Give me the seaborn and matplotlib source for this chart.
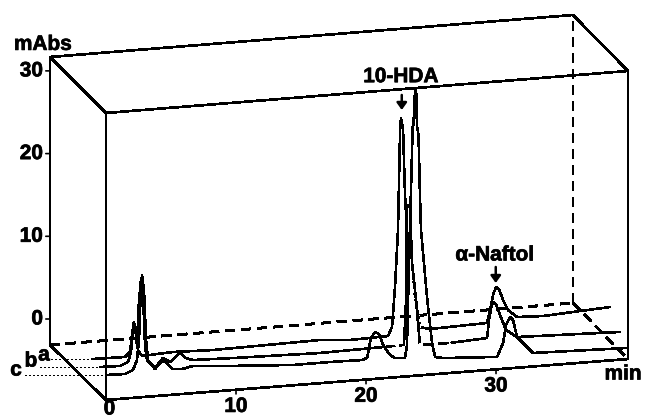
import numpy as np
import pandas as pd
import seaborn as sns
import matplotlib.pyplot as plt
import matplotlib.patheffects as pe

# chromatogram traces (min along front axis, mAbs on back scale)
time_a = [-1.08, 1.46, 1.85, 2.0, 2.15, 2.31, 2.46, 2.77, 3.38, 5.15, 8.23, 16.46, 18.77, 21.69, 22.0, 22.23, 22.46,
          22.62, 22.69, 22.85, 23.0, 23.15, 23.54, 23.77, 24.15, 24.92, 29.31, 29.54, 29.77, 30.0, 30.23, 30.54,
          30.92, 31.62, 33.62, 38.77]
abs_a = [-4.84, -4.59, -3.99, -1.93, -0.36, -1.57, -3.75, -4.47, -4.35, -3.99, -3.75, -2.54, -2.54, -2.06, -0.97,
         3.87, 10.76, 22.85, 24.3, 22.85, 14.99, 10.76, 6.77, 2.66, -0.97, -1.21, -0.48, 1.09, 2.9, 3.87, 3.63, 2.3,
         1.09, 0.24, 0.36, 1.45]

time_b = [-0.46, 1.08, 1.69, 1.92, 2.08, 2.23, 2.38, 2.54, 2.69, 2.85, 3.0, 3.15, 3.77, 4.38, 4.92, 5.69, 6.15, 6.69,
          9.77, 16.46, 21.31, 22.92, 23.08, 23.12, 23.23, 23.38, 23.54, 23.85, 24.15, 26.46, 29.31, 29.46, 29.62,
          29.77, 30.0, 30.31, 30.77, 31.62, 39.54]
abs_b = [-5.8, -5.68, -5.2, -3.99, -1.33, -0.85, -3.14, 2.3, 4.72, 2.9, -3.14, -4.96, -5.93, -4.72, -5.2, -4.11,
         -4.72, -4.96, -4.72, -4.11, -3.39, -3.14, 2.3, 13.54, 13.78, 13.54, 6.77, 2.3, -3.14, -2.9, -2.3, -0.12,
         1.33, 2.06, 1.81, 0.48, -1.33, -2.18, -1.57]

time_c = [0, 1.46, 2.08, 2.38, 2.54, 2.69, 2.77, 2.92, 3.08, 3.23, 3.77, 4.38, 5.15, 5.85, 6.69, 9.31, 14.38, 17.23,
          19.69, 20.08, 20.38, 20.69, 21.0, 21.31, 21.85, 22.23, 23.0, 23.15, 23.31, 23.46, 23.59, 23.65, 23.77,
          23.85, 23.92, 24.04, 24.15, 24.23, 24.69, 25.08, 25.31, 25.92, 30.08, 30.54, 30.77, 31.08, 31.31, 31.62,
          32.85, 40.0]
abs_c = [-6.77, -6.65, -6.17, -4.96, -2.54, 4.11, 5.32, 3.51, -2.54, -4.96, -6.05, -4.96, -6.05, -6.05, -5.68, -5.68,
         -5.56, -5.2, -4.96, -4.72, -2.3, -1.57, -1.81, -3.14, -4.35, -4.72, -4.72, -3.14, 7.13, 15.6, 23.22, 23.46,
         27.69, 27.93, 23.34, 22.25, 14.99, 10.76, 2.66, -2.9, -4.59, -4.72, -4.59, -2.9, -0.73, 0.24, -0.12, -2.18,
         -4.11, -3.51]

leader_start = [-4.85, -5.08, -6.23]

y_ticks = [0, 10, 20, 30]
x_ticks = [0, 10, 20, 30]

# box corners: back left, front left, front right, back right (min, mAbs)
box_t = [-4.31, 0, 40.15, 35.92]
box_bottom = [-3.14, -9.79, -4.84, 1.93]
box_top = [31.68, 24.91, 29.99, 36.76]

FS = 15
FONT = dict(family="Liberation Sans", fontweight="bold", color="black", fontsize=FS,
            path_effects=[pe.withStroke(linewidth=0.5, foreground="black")])


def broken_part(ax, t, v, start, stop, style, zorder):
    # white gaps over a stretch of trace, it prints broken in the original
    ax.plot(t[start:stop], v[start:stop], color="white", lw=1.5, ls=style, zorder=zorder)


def main():
    sns.set_theme(style="white")
    plt.rcParams["lines.antialiased"] = False
    fig = plt.figure(figsize=(6.45, 4.18), dpi=100)
    ax = fig.add_axes([0, 0, 1, 1])

    # a, gaps of a, then the nearer traces on top
    sns.lineplot(x=time_a, y=abs_a, sort=False, estimator=None, color="black", linewidth=1.15, ax=ax, zorder=2)
    broken_part(ax, time_a, abs_a, 21, 25, (0, (1, 1.5)), 2.5)
    sns.lineplot(x=time_b, y=abs_b, sort=False, estimator=None, color="black", linewidth=1.15, ax=ax, zorder=3)
    broken_part(ax, time_b, abs_b, 20, 22, (0, (1, 5)), 3.5)
    broken_part(ax, time_b, abs_b, 28, 30, (0, (1, 6)), 3.5)
    sns.lineplot(x=time_c, y=abs_c, sort=False, estimator=None, color="black", linewidth=1.15, ax=ax, zorder=4)

    # solid edges of the box
    kw = dict(color="black", lw=1.2, solid_capstyle="round")
    for i, j in [(0, 1), (1, 2), (2, 3), (3, 0)]:
        ax.plot([box_t[i], box_t[j]], [box_top[i], box_top[j]], **kw)
    for i in [0, 1, 2]:
        ax.plot([box_t[i], box_t[i]], [box_bottom[i], box_top[i]], **kw)
    ax.plot(box_t[:3], box_bottom[:3], **kw)

    # hidden edges
    dash = dict(color="black", lw=1.1, ls=(0, (6, 4)))
    ax.plot([box_t[0], box_t[3]], [box_bottom[0], box_bottom[3]], **dash)
    ax.plot([box_t[3], box_t[3]], [box_bottom[3], box_top[3]], **dash)
    ax.plot([box_t[3], box_t[2]], [box_bottom[3], box_bottom[2]], **dash)

    # dotted leaders to the trace letters
    for start, t, v in zip(leader_start, [time_a, time_b, time_c], [abs_a, abs_b, abs_c]):
        ax.plot([start, t[0]], [v[0], v[0]], color="black", lw=1.0, ls=(0, (1, 1.5)))

    # y scale on the back left edge
    for v in y_ticks:
        ax.annotate("", xy=(box_t[0], v), xytext=(-3, 0), textcoords="offset points",
                    arrowprops=dict(arrowstyle="-", color="black", lw=1.2, shrinkA=0, shrinkB=0))
        ax.annotate(str(v), xy=(box_t[0], v), xytext=(-5, 0), textcoords="offset points",
                    ha="right", va="center", **FONT)

    # x scale along the front bottom edge
    for t in x_ticks:
        v = np.interp(t, box_t[1:3], box_bottom[1:3])
        ax.annotate("", xy=(t, v), xytext=(0, -3), textcoords="offset points",
                    arrowprops=dict(arrowstyle="-", color="black", lw=1.2, shrinkA=0, shrinkB=0))
        # the 0 sits tight against the bottom edge
        offset = (2.5, -6.5) if t == 0 else (0, -12)
        ax.annotate(str(t), xy=(t, v), xytext=offset, textcoords="offset points",
                    ha="center", va="center", **FONT)

    ax.text(-4.85, 33.2, "mAbs", ha="center", va="center", **FONT)
    ax.text(39.77, -6.65, "min", ha="center", va="center", **FONT)
    ax.text(-4.77, -4.35, "a", ha="center", va="center", **FONT)
    ax.text(-5.77, -5.08, "b", ha="center", va="center", **FONT)
    ax.text(-6.92, -6.17, "c", ha="center", va="center", **FONT)

    ax.text(22.69, 29.3, "10-HDA", ha="center", va="center", **FONT)
    ax.text(29.92, 7.74, "\u03b1-Naftol", ha="center", va="center", **FONT)

    arrow = dict(arrowstyle="-|>,head_width=0.25,head_length=0.35", color="black", lw=1.8, shrinkA=0, shrinkB=0)
    ax.annotate("", xy=(22.75, 25.27), xytext=(22.75, 27.09), arrowprops=arrow)
    ax.annotate("", xy=(29.98, 4.35), xytext=(29.98, 6.29), arrowprops=arrow)

    ax.set_xlim(-8.154, 41.46)
    ax.set_ylim(-11.97, 38.57)
    ax.axis("off")

    fig.savefig("out.png", dpi=100, facecolor="white")
    plt.close(fig)


if __name__ == "__main__":
    main()
